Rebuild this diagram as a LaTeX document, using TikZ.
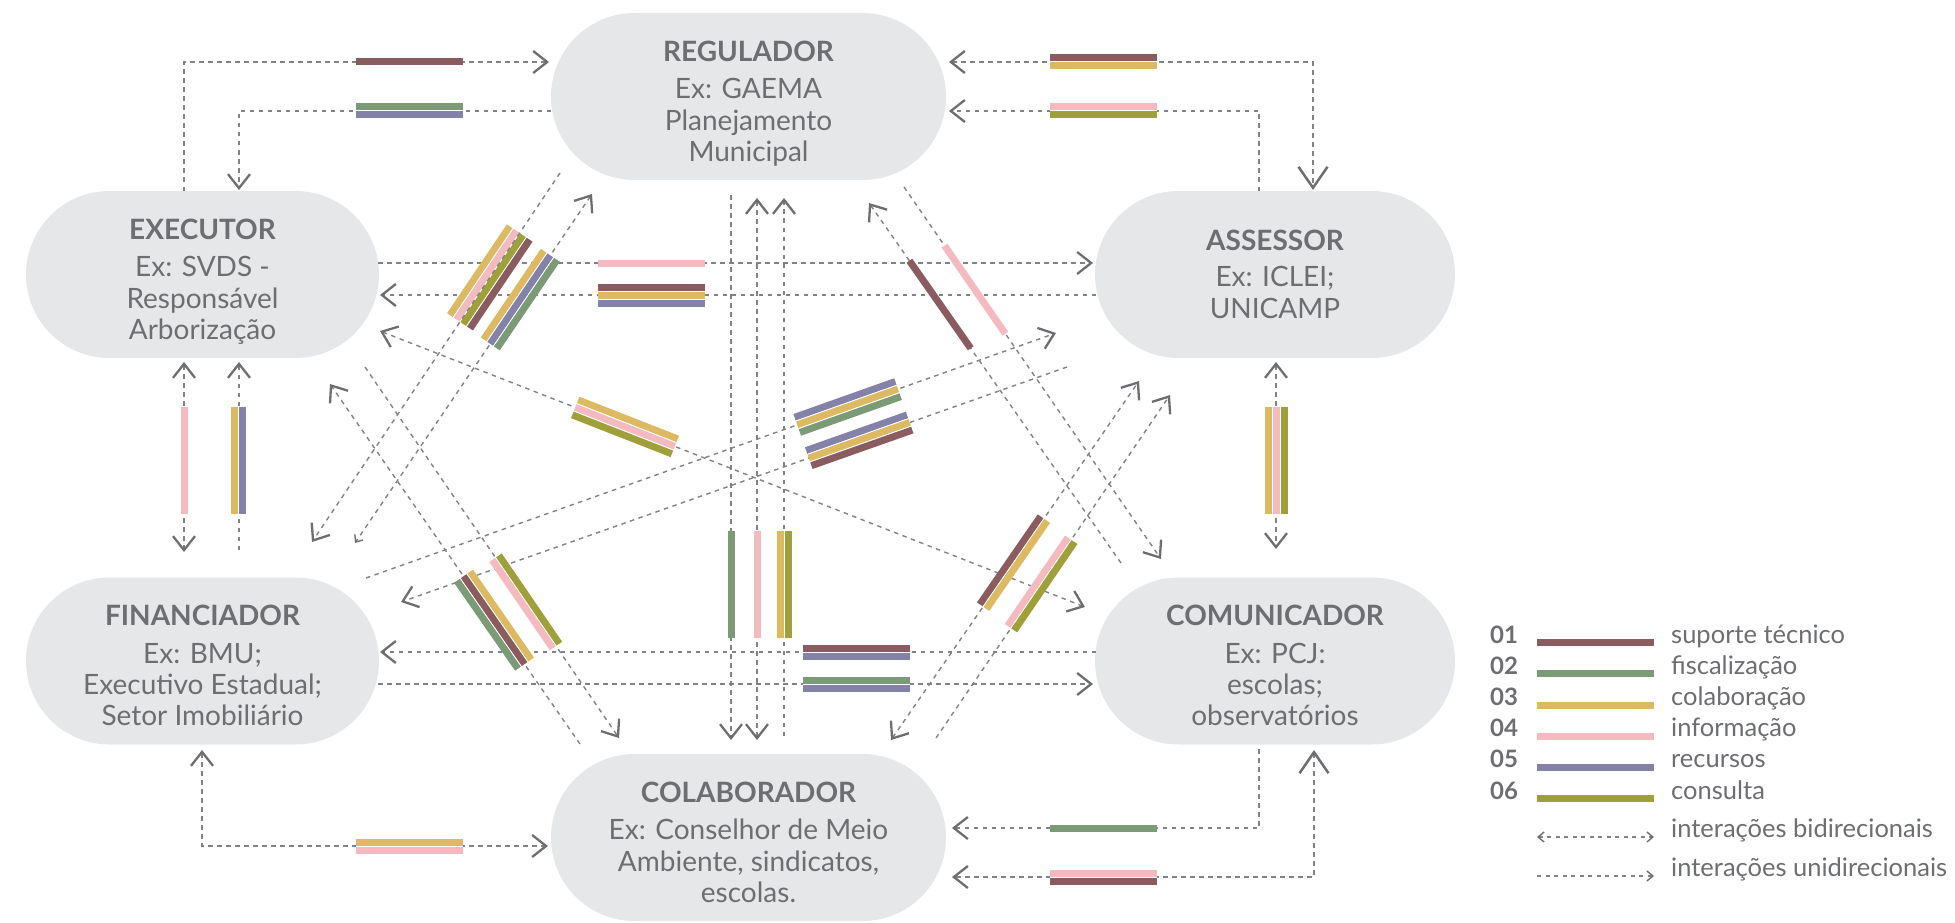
\documentclass[tikz,border=0pt]{standalone}
\usepackage{fontspec}
\setmainfont{Lato}
\usetikzlibrary{arrows.meta}
\definecolor{cMar}{HTML}{8B5C5F}
\definecolor{cGrn}{HTML}{7A9B75}
\definecolor{cMus}{HTML}{DDB962}
\definecolor{cPnk}{HTML}{F4BAC0}
\definecolor{cPur}{HTML}{8482A9}
\definecolor{cOlv}{HTML}{9FA03A}
\definecolor{nodeg}{HTML}{E6E7E8}
\definecolor{txtg}{HTML}{6D6E71}
\definecolor{dashg}{HTML}{808285}
\newcommand\onebar[2]{\hbox{\color{#1}\vrule width #2 height 7pt depth 0pt}}
\newcommand\bstack[1]{\vbox{\offinterlineskip\def\bsep{}\foreach \bc in {#1}{\bsep\onebar{\bc}{107pt}\gdef\bsep{\hbox{\color{white}\vrule width 107pt height 1pt depth 0pt}}}}}
\tikzset{
  stad/.style={fill=nodeg, rounded corners=83.5pt, minimum height=167pt, inner sep=0pt, draw=none},
  ttl/.style={font=\fontsize{28}{32}\selectfont\bfseries, text=txtg, anchor=base, inner sep=0pt},
  ln/.style={font=\fontsize{28}{32}\selectfont, text=txtg, anchor=base, inner sep=0pt},
  conn/.style={draw=dashg, line width=1.4pt, dash pattern=on 4.5pt off 4.5pt},
  lconn/.style={draw=dashg, line width=1.2pt, dash pattern=on 4pt off 4.5pt},
  barn/.style={inner sep=0pt, outer sep=0pt},
  Chev/.tip={Straight Barb[length=14pt,width=22pt,line width=2.3pt,color=txtg]},
  BigChev/.tip={Straight Barb[length=21pt,width=29pt,line width=2.5pt,color=txtg]},
  SmChev/.tip={Straight Barb[length=6pt,width=10pt,line width=1.4pt,color=txtg]},
  num/.style={font=\fontsize{24}{28}\selectfont\bfseries, text=txtg, anchor=base west, inner sep=0pt},
  lab/.style={font=\fontsize{25.5}{29}\selectfont, text=txtg, anchor=base west, inner sep=0pt},
}
\begin{document}
\begin{tikzpicture}[x=1pt,y=1pt]
\useasboundingbox (0,0) rectangle (1955,-923);
% ---------- actor nodes
\node[stad, minimum width=395pt] (REG) at (748.5,-96.5) {};
\node[stad, minimum width=353pt] (EXE) at (202.5,-274.5) {};
\node[stad, minimum width=360pt] (ASS) at (1275,-274.5) {};
\node[stad, minimum width=353pt] (FIN) at (202.5,-661) {};
\node[stad, minimum width=360pt] (COM) at (1275,-661) {};
\node[stad, minimum width=395pt] (COL) at (748.5,-837.5) {};
% ---------- texts
\node[ttl] (REGt) at ([yshift=-48.5pt]REG.north) {REGULADOR};
\node[ln] (REG1) at ([yshift=-86pt]REG.north) {Ex: GAEMA};
\node[ln] (REG2) at ([yshift=-117.5pt]REG.north) {Planejamento};
\node[ln] (REG3) at ([yshift=-148.5pt]REG.north) {Municipal};
\node[ttl] (EXEt) at ([yshift=-48.5pt]EXE.north) {EXECUTOR};
\node[ln] (EXE1) at ([yshift=-86pt]EXE.north) {Ex: SVDS -};
\node[ln] (EXE2) at ([yshift=-117.5pt]EXE.north) {Responsável};
\node[ln] (EXE3) at ([yshift=-148.5pt]EXE.north) {Arborização};
\node[ttl] (ASSt) at ([yshift=-59.5pt]ASS.north) {ASSESSOR};
\node[ln] (ASS1) at ([yshift=-96pt]ASS.north) {Ex: ICLEI;};
\node[ln] (ASS2) at ([yshift=-127.5pt]ASS.north) {UNICAMP};
\node[ttl] (FINt) at ([yshift=-48.5pt]FIN.north) {FINANCIADOR};
\node[ln] (FIN1) at ([yshift=-86pt]FIN.north) {Ex: BMU;};
\node[ln] (FIN2) at ([yshift=-117.5pt]FIN.north) {Executivo Estadual;};
\node[ln] (FIN3) at ([yshift=-148.5pt]FIN.north) {Setor Imobiliário};
\node[ttl] (COMt) at ([yshift=-48.5pt]COM.north) {COMUNICADOR};
\node[ln] (COM1) at ([yshift=-86pt]COM.north) {Ex: PCJ:};
\node[ln] (COM2) at ([yshift=-117.5pt]COM.north) {escolas;};
\node[ln] (COM3) at ([yshift=-148.5pt]COM.north) {observatórios};
\node[ttl] (COLt) at ([yshift=-48.5pt]COL.north) {COLABORADOR};
\node[ln] (COL1) at ([yshift=-86pt]COL.north) {Ex: Conselhor de Meio};
\node[ln] (COL2) at ([yshift=-117.5pt]COL.north) {Ambiente, sindicatos,};
\node[ln] (COL3) at ([yshift=-148.5pt]COL.north) {escolas.};
% ---------- connector end points
\coordinate (k1a) at (184,-191); \coordinate (k1b) at (549,-62);
\coordinate (k2a) at (551,-111); \coordinate (k2b) at (239,-190);
\coordinate (k3a) at (949,-62); \coordinate (k3b) at (1313,-190);
\coordinate (k4a) at (1259,-191); \coordinate (k4b) at (949,-111);
\coordinate (k5a) at (184,-362); \coordinate (k5b) at (184,-552);
\coordinate (k6a) at (239,-550); \coordinate (k6b) at (239,-362);
\coordinate (k7a) at (1276,-362); \coordinate (k7b) at (1276,-549);
\coordinate (k8a) at (202,-750); \coordinate (k8b) at (548,-846);
\coordinate (k9a) at (1259,-749); \coordinate (k9b) at (952,-828);
\coordinate (k10a) at (1314,-750); \coordinate (k10b) at (952,-877);
\coordinate (k11a) at (378,-263); \coordinate (k11b) at (1093,-263);
\coordinate (k12a) at (1096,-295); \coordinate (k12b) at (380,-295);
\coordinate (k13a) at (1096,-652); \coordinate (k13b) at (380,-652);
\coordinate (k14a) at (378,-684); \coordinate (k14b) at (1093,-684);
\coordinate (k15a) at (731,-195); \coordinate (k15b) at (731,-740);
\coordinate (k16a) at (757,-198); \coordinate (k16b) at (757,-740);
\coordinate (k17a) at (784,-736); \coordinate (k17b) at (784,-198);
\coordinate (da1a) at (560,-173); \coordinate (da1b) at (312,-542);
\coordinate (da2a) at (592,-194); \coordinate (da2b) at (355,-543);
\coordinate (db1a) at (580,-744); \coordinate (db1b) at (330,-384);
\coordinate (db2a) at (365,-367); \coordinate (db2b) at (619,-738);
\coordinate (dc1a) at (366,-578); \coordinate (dc1b) at (1056,-333);
\coordinate (dc2a) at (1067,-367); \coordinate (dc2b) at (401,-602);
\coordinate (dd1a) at (380,-331); \coordinate (dd1b) at (1085,-607);
\coordinate (de1a) at (904,-187); \coordinate (de1b) at (1161,-559);
\coordinate (de2a) at (1121,-563); \coordinate (de2b) at (869,-203);
\coordinate (df1a) at (891,-740); \coordinate (df1b) at (1139,-381);
\coordinate (df2a) at (936,-738); \coordinate (df2b) at (1170,-395);
% ---------- connectors
\draw[conn,-Chev] (k1a) |- (k1b);
\draw[conn,-Chev] (k2a) -| (k2b);
\draw[conn,Chev-BigChev] (k3a) -| (k3b);
\draw[conn,-Chev] (k4a) |- (k4b);
\draw[conn,Chev-Chev] (k5a) -- (k5b);
\draw[conn,-Chev] (k6a) -- (k6b);
\draw[conn,Chev-Chev] (k7a) -- (k7b);
\draw[conn,Chev-Chev] (k8a) |- (k8b);
\draw[conn,-Chev] (k9a) |- (k9b);
\draw[conn,BigChev-Chev] (k10a) |- (k10b);
\draw[conn,-Chev] (k11a) -- (k11b);
\draw[conn,-Chev] (k12a) -- (k12b);
\draw[conn,-Chev] (k13a) -- (k13b);
\draw[conn,-Chev] (k14a) -- (k14b);
\draw[conn,-Chev] (k15a) -- (k15b);
\draw[conn,Chev-Chev] (k16a) -- (k16b);
\draw[conn,-Chev] (k17a) -- (k17b);
\draw[conn,Chev-SmChev] (da2a) -- (da2b);
\draw[conn,-Chev] (db1a) -- (db1b);
\draw[conn,-Chev] (db2a) -- (db2b);
\draw[conn,-Chev] (dc1a) -- (dc1b);
\draw[conn,-Chev] (dc2a) -- (dc2b);
\draw[conn,Chev-Chev] (dd1a) -- (dd1b);
\draw[conn,-Chev] (de1a) -- (de1b);
\draw[conn,-Chev] (de2a) -- (de2b);
\draw[conn,Chev-Chev] (df1a) -- (df1b);
\draw[conn,-Chev] (df2a) -- (df2b);
% ---------- interaction bars
\node[barn] (b1) at (409.5,-62) {\bstack{cMar}};
\node[barn] (b2) at (409.5,-111) {\bstack{cGrn,cPur}};
\node[barn] (b3) at (1103.5,-62) {\bstack{cMar,cMus}};
\node[barn] (b4) at (1103.5,-111) {\bstack{cPnk,cOlv}};
\node[barn, rotate=90] (b5) at (184,-460) {\bstack{cPnk}};
\node[barn, rotate=90] (b6) at (238.5,-460) {\bstack{cMus,cPur}};
\node[barn, rotate=90] (b7) at (1276,-460) {\bstack{cMus,cPnk,cOlv}};
\node[barn] (b8) at (409.5,-846) {\bstack{cMus,cPnk}};
\node[barn] (b9) at (1103.5,-828) {\bstack{cGrn}};
\node[barn] (b10) at (1103.5,-877) {\bstack{cPnk,cMar}};
\node[barn] (b11) at (651,-263) {\bstack{cPnk}};
\node[barn] (b12) at (651,-295) {\bstack{cMar,cMus,cPur}};
\node[barn] (b13) at (856.5,-652) {\bstack{cMar,cPur}};
\node[barn] (b14) at (856.5,-684) {\bstack{cGrn,cPur}};
\node[barn, rotate=90] (b15) at (731,-584) {\bstack{cGrn}};
\node[barn, rotate=90] (b16) at (757,-584) {\bstack{cPnk}};
\node[barn, rotate=90] (b17) at (784,-584) {\bstack{cMus,cOlv}};
\path (da1a) -- (da1b) node[barn, pos=.283, sloped] (ba1) {\bstack{cMus,cPnk,cOlv,cMar}};
\path (da2a) -- (da2b) node[barn, pos=.3026, sloped] (ba2) {\bstack{cMus,cPur,cGrn}};
\path (db1a) -- (db1b) node[barn, pos=.344, sloped] (bb1) {\bstack{cMus,cMar,cGrn}};
\path (db2a) -- (db2b) node[barn, pos=.633, sloped] (bb2) {\bstack{cOlv,cPnk}};
\path (dc1a) -- (dc1b) node[barn, pos=.698, sloped] (bc1) {\bstack{cPur,cMus,cGrn}};
\path (dc2a) -- (dc2b) node[barn, pos=.312, sloped] (bc2) {\bstack{cPur,cMus,cMar}};
\path (dd1a) -- (dd1b) node[barn, pos=.3475, sloped] (bd1) {\bstack{cMus,cPnk,cOlv}};
\path (de1a) -- (de1b) node[barn, pos=.276, sloped] (be1) {\bstack{cPnk}};
\path (de2a) -- (de2b) node[barn, pos=.718, sloped] (be2) {\bstack{cMar}};
\path (df1a) -- (df1b) node[barn, pos=.494, sloped] (bf1) {\bstack{cMar,cMus}};
\path (df2a) -- (df2b) node[barn, pos=.449, sloped] (bf2) {\bstack{cPnk,cOlv}};
\draw[conn,-Chev] (da1a) -- (da1b);
% ---------- legend
\foreach \nn/\cc/\tt [count=\i from 0] in {01/cMar/suporte técnico,02/cGrn/fiscalização,03/cMus/colaboração,04/cPnk/informação,05/cPur/recursos,06/cOlv/consulta}{
  \node[num] (num\i) at (1490,{-643-31.2*\i}) {\nn};
  \node[barn] (lbar\i) at (1595.5,{-642.6-31.2*\i}) {\onebar{\cc}{117pt}};
  \node[lab] (lab\i) at (1671,{-643-31.2*\i}) {\tt};
}
\coordinate (lg1a) at (1537,-837); \coordinate (lg1b) at (1654,-837);
\coordinate (lg2a) at (1537,-876); \coordinate (lg2b) at (1654,-876);
\draw[lconn,SmChev-SmChev] (lg1a) -- (lg1b);
\draw[lconn,-SmChev] (lg2a) -- (lg2b);
\node[lab] (lab6) at (1671,-837) {interações bidirecionais};
\node[lab] (lab7) at (1671,-876) {interações unidirecionais};
\end{tikzpicture}
\end{document}
